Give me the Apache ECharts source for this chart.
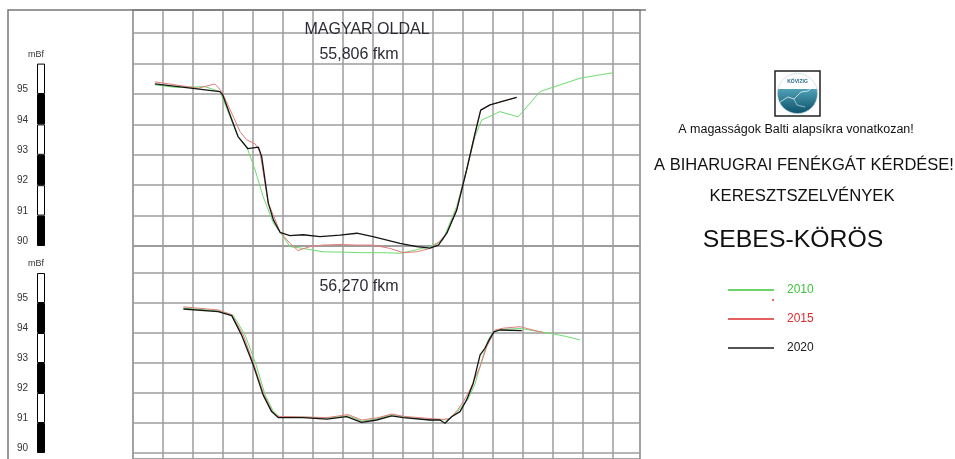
<!DOCTYPE html>
<html><head><meta charset="utf-8">
<script src="https://cdn.jsdelivr.net/npm/echarts@6/dist/echarts.min.js"></script>
<style>html,body{margin:0;padding:0;background:#fff}#c{width:955px;height:459px}</style>
</head><body><div id="c"></div>
<script>
// ---------- DATA (station m, elevation mBf) ----------
const years = ['2010', '2015', '2020'];
const scaleSegments = [90, 91, 92, 93, 94, 95];   // lower bound of each 1 m scale block
const scaleTickLabels = [90, 91, 92, 93, 94, 95];

// Upper profile: 55,806 fkm
const top2010 = [[7.3,95.3],[14,95.22],[24,95.24],[29,95.08],[35,93.6],[37.9,93.27],[40.7,92.5],[43.4,91.62],[46.8,90.75],[50.1,90.31],[52.3,89.98],[56.7,89.92],[63.3,89.81],[69,89.8],[76.7,89.78],[83.3,89.78],[89,89.76],[93.3,89.85],[99,89.98],[103.3,90.2],[107.9,91.3],[111.2,92.5],[114,93.6],[116.2,94.14],[122.3,94.42],[128.4,94.25],[135.7,95.08],[149,95.52],[160.1,95.7]];
const top2015 = [[7.3,95.4],[21.7,95.19],[27.3,95.33],[29.6,95.08],[35.7,93.76],[37.9,93.49],[40.7,93.36],[42.3,93.1],[45.1,91.41],[49,90.47],[52.3,90.09],[55,89.85],[59,89.98],[63.3,90.03],[69,90.05],[74.6,90.03],[80,90.03],[85.7,89.92],[90,89.78],[94.6,89.81],[99,89.92],[101.7,90.1],[104.6,90.42],[107.9,91.18],[111.2,92.5],[114,93.7],[115.9,94.47],[119,94.64],[124.6,94.8],[127.9,94.89]];
const top2020 = [[7.3,95.33],[29,95.08],[29.9,94.97],[35,93.6],[38.3,93.2],[41.8,93.25],[42.9,92.94],[45.1,91.41],[46.8,90.86],[49,90.45],[52.3,90.34],[56.7,90.37],[62.3,90.31],[69,90.36],[74.6,90.42],[80,90.31],[89,90.09],[94.6,89.98],[99,89.93],[101.8,90.03],[104.6,90.42],[107.9,91.18],[111.2,92.5],[114,93.7],[115.9,94.47],[119,94.64],[124.6,94.8],[127.9,94.89]];

// Lower profile: 56,270 fkm
const bot2010 = [[16.8,94.83],[28.3,94.74],[33.3,94.6],[37.3,93.95],[41,92.95],[44,91.95],[46.7,91.4],[48.7,91.22],[56.7,91.2],[64.7,91.16],[71.7,91.24],[76.3,91.06],[81.3,91.14],[86.3,91.28],[90.3,91.2],[99,91.1],[102.3,91.12],[105,91.1],[108.3,91.4],[111.7,91.8],[114,92.3],[116.8,93.27],[118.4,93.77],[120.1,94.04],[123.3,94.12],[129,94.15],[140.1,93.97],[144.6,93.88],[149,93.77]];
const bot2015 = [[16.8,94.87],[28.4,94.77],[32.9,94.61],[36.7,93.95],[40.3,92.95],[43.7,91.93],[46.3,91.4],[48.3,91.22],[56.7,91.2],[64.7,91.18],[71.7,91.28],[76.3,91.1],[81.3,91.17],[86.3,91.3],[90.3,91.22],[99,91.15],[103.3,91.12],[105.7,91.15],[108.3,91.45],[110.1,91.71],[112.3,92.1],[115.7,92.88],[117.9,93.54],[120.7,94.1],[123.4,94.16],[129,94.21],[136.8,94.01]];
const bot2020 = [[16.8,94.8],[28.4,94.71],[32.9,94.58],[36.2,93.93],[40.1,92.93],[43.4,91.93],[46.2,91.38],[48.4,91.18],[56.8,91.18],[64.6,91.13],[71.2,91.21],[76.2,91.02],[81.2,91.1],[86.2,91.24],[90.1,91.18],[99,91.1],[102.3,91.1],[104,90.99],[106.2,91.21],[109,91.38],[111.2,91.77],[113.4,92.32],[115.7,93.27],[117.3,93.49],[119,93.82],[120.3,94.04],[122.3,94.1],[129.6,94.08]];

// ---------- STYLE ----------
const FONT = '"Liberation Sans", Arial, sans-serif';
const GRIDC = '#9c9c9c';
const lineColors = {'2010': '#6fdc6f', '2015': '#e47a7a', '2020': '#151515'};
const lineWidths = {'2010': 1, '2015': 1, '2020': 1.3};
const legendColors = {'2010': '#3cc43c', '2015': '#dc2c2c', '2020': '#1a1a1a'};

const chart = echarts.init(document.getElementById('c'), null, {renderer: 'canvas'});

const panelX = (i) => ({
  gridIndex: i, type: 'value', min: 0, max: 169, interval: 10,
  axisLine: {show: false}, axisTick: {show: false}, axisLabel: {show: false},
  splitLine: {show: true, lineStyle: {color: GRIDC, width: 1.5}}
});
const panelY = (i, min, max, interval) => {
  const a = {
    gridIndex: i, type: 'value', min: min, max: max,
    axisLine: {show: false}, axisTick: {show: false}, axisLabel: {show: false},
    splitLine: {show: true, lineStyle: {color: GRIDC, width: 1.5}}
  };
  if (interval) a.interval = interval; else a.splitNumber = 7;
  return a;
};
const scaleX = (i) => ({
  gridIndex: i, type: 'category', data: ['s'], show: false
});
const scaleY = (i, min, max, interval) => {
  const a = {
    gridIndex: i, type: 'value', min: min, max: max,
    axisLine: {show: false}, axisTick: {show: false}, splitLine: {show: false},
    axisLabel: {
      show: true, margin: 9, fontSize: 10, fontFamily: FONT, color: '#333',
      verticalAlign: 'bottom', lineHeight: 9,
      formatter: (v) => scaleTickLabels.indexOf(Math.round(v * 1000) / 1000) >= 0 ? String(v) : ''
    }
  };
  if (interval) a.interval = interval; else a.splitNumber = 7;
  return a;
};

const series = [];
const panels = [
  {idx: 0, data: {'2010': top2010, '2015': top2015, '2020': top2020}},
  {idx: 1, data: {'2010': bot2010, '2015': bot2015, '2020': bot2020}}
];
panels.forEach(p => {
  years.forEach(y => {
    series.push({
      name: y, type: 'line', xAxisIndex: p.idx, yAxisIndex: p.idx,
      data: p.data[y], showSymbol: false, symbol: 'none', clip: false,
      smooth: false, animation: false, z: 3 + years.indexOf(y),
      lineStyle: {color: lineColors[y], width: lineWidths[y]},
      itemStyle: {color: lineColors[y]}
    });
  });
});
[2, 3].forEach(g => {
  series.push({
    type: 'bar', xAxisIndex: g, yAxisIndex: g, stack: 'sc' + g, barWidth: '100%',
    data: [scaleSegments[0]], itemStyle: {color: 'rgba(0,0,0,0)'}, silent: true, animation: false
  });
  scaleSegments.forEach((lv, k) => {
    series.push({
      type: 'bar', xAxisIndex: g, yAxisIndex: g, stack: 'sc' + g, barWidth: '100%',
      data: [1], silent: true, animation: false,
      itemStyle: {color: k % 2 === 0 ? '#000' : '#fff', borderColor: '#000', borderWidth: 1}
    });
  });
});

const txt = (x, y, s, size, color, align) => ({
  type: 'text', x: x, y: y, z: 10,
  style: {text: s, fill: color, font: size + 'px ' + FONT,
          textAlign: align || 'center', textVerticalAlign: 'middle'}
});

const option = {
  backgroundColor: '#fff',
  animation: false,
  grid: [
    {left: 133, top: 10, width: 507, height: 236, show: true, borderColor: GRIDC, borderWidth: 1.5},
    {left: 133, top: 246, width: 507, height: 213, show: true, borderColor: GRIDC, borderWidth: 1.5},
    {left: 37, top: 10, width: 8, height: 236},
    {left: 37, top: 246, width: 8, height: 213}
  ],
  xAxis: [panelX(0), panelX(1), scaleX(2), scaleX(3)],
  yAxis: [panelY(0, 90, 97.763, 1), panelY(1, 89.8, 96.9), scaleY(2, 90, 97.763, 1), scaleY(3, 89.8, 96.9)],
  legend: {
    orient: 'vertical', left: 723, top: 279, itemGap: 17, itemWidth: 46, itemHeight: 1.5,
    icon: 'rect', selectedMode: false,
    textStyle: {fontSize: 12, fontFamily: FONT, padding: [0, 0, 0, 8]},
    data: years.map(y => ({name: y, itemStyle: {color: legendColors[y]},
                           textStyle: {color: legendColors[y]}}))
  },
  series: series,
  graphic: [
    {type: 'polyline', z: 20, shape: {points: [[8, 460], [8, 10], [646, 10]]},
     style: {stroke: '#777', lineWidth: 1.5, fill: null}},
    txt(367, 30, 'MAGYAR OLDAL', 16, '#2b2b38'),
    txt(359, 55, '55,806 fkm', 16, '#2b2b38'),
    txt(359, 287, '56,270 fkm', 16, '#2b2b38'),
    txt(36, 55, 'mBf', 9, '#333'),
    txt(36, 264, 'mBf', 9, '#333'),
    txt(796, 130, 'A magasságok Balti alapsíkra vonatkozan!', 12.5, '#111'),
    txt(804, 165, 'A BIHARUGRAI FENÉKGÁT KÉRDÉSE!', 16.5, '#111'),
    txt(802, 196, 'KERESZTSZELVÉNYEK', 16.7, '#111'),
    txt(793, 240, 'SEBES-KÖRÖS', 24.8, '#111'),
    {type: 'circle', shape: {cx: 773, cy: 300, r: 1}, style: {fill: '#d33'}},
    {type: 'group', x: 775, y: 71, children: [
      {type: 'rect', shape: {x: 0, y: 0, width: 45, height: 45},
       style: {fill: '#fff', stroke: '#222', lineWidth: 1.5}},
      {type: 'circle', shape: {cx: 22.5, cy: 22.5, r: 20},
       style: {fill: new echarts.graphic.LinearGradient(0, 0, 0, 1, [
         {offset: 0, color: '#ffffff'}, {offset: 0.38, color: '#ffffff'},
         {offset: 0.40, color: '#4f9fb5'}, {offset: 1, color: '#0b5068'}]),
         stroke: '#b9d3db', lineWidth: 0.6}},
      {type: 'polyline', shape: {points: [[5, 31], [13, 26], [19, 28], [26, 21], [33, 20], [41, 14]]},
       style: {stroke: '#e4f2f5', lineWidth: 0.8, fill: null}},
      {type: 'polyline', shape: {points: [[19, 28], [22, 34], [30, 36]]},
       style: {stroke: '#e4f2f5', lineWidth: 0.6, fill: null}},
      {type: 'text', x: 22.5, y: 11, style: {text: 'KÖVIZIG', fill: '#2a6c8a',
        font: 'bold 5px ' + FONT, textAlign: 'center', textVerticalAlign: 'middle'}}
    ]}
  ]
};
chart.setOption(option);
</script>
</body></html>
